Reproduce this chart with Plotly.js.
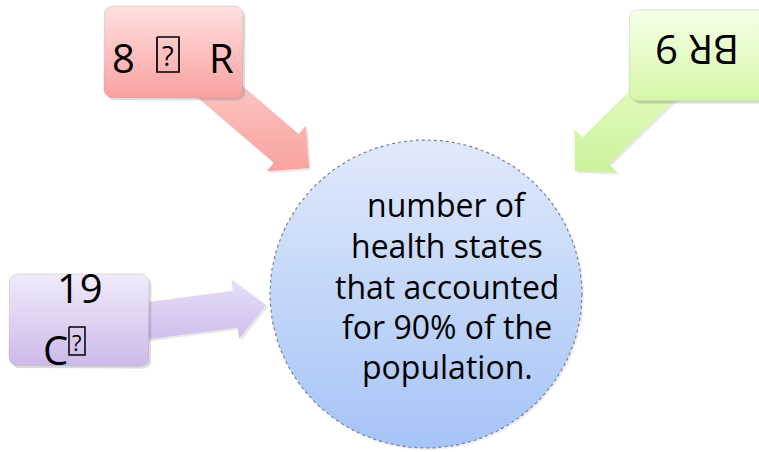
<!DOCTYPE html>
<html>
<head>
<meta charset="utf-8">
<script src="https://cdn.plot.ly/plotly-3.0.1.min.js"></script>
<style>html,body{margin:0;padding:0;background:#fff;}#chart{width:759px;height:452px;}</style>
</head>
<body>
<div id="chart"></div>
<script>
// ---- content ----
const redLabelParts = ["8", "?", "R"];          // "?" drawn inside a missing-glyph box
const greenLabel = "BR 9";
const purpleLabels = ["19", "C", "?"];
const centerLines = ["number of", "health states", "that accounted", "for 90% of the", "population."];

// ---- geometry (pixel coordinates on a 759x452 canvas) ----
const W = 759, H = 452;
const circleGeom = {cx: 426, cy: 294, rx: 156, ry: 154};
const boxes = [
  {x0: 104, y0: 6, x1: 243, y1: 98, r: 9, top: "rgb(255,224,224)", bot: "rgb(249,160,160)"},
  {x0: 629, y0: 10, x1: 775, y1: 101, r: 9, top: "rgb(246,255,232)", bot: "rgb(212,246,168)"},
  {x0: 9, y0: 274, x1: 149, y1: 366, r: 9, top: "rgb(241,234,251)", bot: "rgb(204,186,233)"}
];
const arrows = [
  {sx: 203, sy: 77, tx: 309, ty: 168, sw: 38, hw: 60, hl: 30, top: "rgb(253,205,203)", bot: "rgb(248,162,158)"},
  {sx: 674, sy: 74, tx: 575, ty: 171, sw: 38, hw: 61, hl: 29, top: "rgb(230,252,200)", bot: "rgb(204,242,155)"},
  {sx: 130, sy: 323, tx: 266, ty: 305, sw: 37, hw: 60, hl: 31, top: "rgb(232,222,248)", bot: "rgb(206,190,236)"}
];
const tofuBoxes = [
  {x0: 157, y0: 37, x1: 179, y1: 72, w: 1.7},
  {x0: 69, y0: 327, x1: 85, y1: 355, w: 1.5}
];
const centerLineY = [204, 245, 286, 326, 366];
const centerX = 447;

function roundRect(b) {
  const xs = [], ys = [];
  const corners = [
    [b.x1 - b.r, b.y0 + b.r, -90, 0],
    [b.x1 - b.r, b.y1 - b.r, 0, 90],
    [b.x0 + b.r, b.y1 - b.r, 90, 180],
    [b.x0 + b.r, b.y0 + b.r, 180, 270]
  ];
  corners.forEach(c => {
    for (let a = c[2]; a <= c[3]; a += 10) {
      const t = a * Math.PI / 180;
      xs.push(c[0] + b.r * Math.cos(t));
      ys.push(c[1] + b.r * Math.sin(t));
    }
  });
  xs.push(xs[0]); ys.push(ys[0]);
  return {xs, ys};
}
function arrowPoly(a) {
  const dx = a.tx - a.sx, dy = a.ty - a.sy, L = Math.hypot(dx, dy);
  const ux = dx / L, uy = dy / L, nx = -uy, ny = ux;
  const bx = a.tx - ux * a.hl, by = a.ty - uy * a.hl;
  const pts = [
    [a.sx + nx * a.sw / 2, a.sy + ny * a.sw / 2],
    [bx + nx * a.sw / 2, by + ny * a.sw / 2],
    [bx + nx * a.hw / 2, by + ny * a.hw / 2],
    [a.tx, a.ty],
    [bx - nx * a.hw / 2, by - ny * a.hw / 2],
    [bx - nx * a.sw / 2, by - ny * a.sw / 2],
    [a.sx - nx * a.sw / 2, a.sy - ny * a.sw / 2]
  ];
  pts.push(pts[0]);
  return {xs: pts.map(p => p[0]), ys: pts.map(p => p[1])};
}
function ellipse(c) {
  const xs = [], ys = [];
  for (let a = 0; a <= 360; a += 3) {
    const t = a * Math.PI / 180;
    xs.push(c.cx + c.rx * Math.cos(t));
    ys.push(c.cy + c.ry * Math.sin(t));
  }
  return {xs, ys};
}
function shapeTrace(p, top, bot, line) {
  const ys = p.ys;
  const ymin = Math.min(...ys), ymax = Math.max(...ys);
  return {
    type: "scatter", mode: "lines", x: p.xs, y: ys, fill: "toself",
    fillgradient: {type: "vertical", colorscale: [[0, bot], [1, top]], start: ymax, stop: ymin},
    line: line || {width: 0, color: "rgba(0,0,0,0)"},
    hoverinfo: "skip", showlegend: false
  };
}
function shadowTrace(p, off, col) {
  return {
    type: "scatter", mode: "lines", x: p.xs.map(v => v + off), y: p.ys.map(v => v + off), fill: "toself",
    fillcolor: col, line: {width: 0, color: "rgba(0,0,0,0)"}, hoverinfo: "skip", showlegend: false
  };
}

const traces = [];
arrows.forEach(a => {
  const p = arrowPoly(a);
  traces.push(shadowTrace(p, 2, "rgba(120,120,120,0.18)"));
  traces.push(shapeTrace(p, a.top, a.bot));
});
const cp = ellipse(circleGeom);
traces.push(shadowTrace(cp, 2, "rgba(120,120,120,0.12)"));
traces.push(shapeTrace(cp, "rgb(224,233,251)", "rgb(166,196,247)", {width: 1.2, color: "rgb(120,128,150)", dash: "dot"}));
boxes.forEach(b => {
  const p = roundRect(b);
  traces.push(shadowTrace(p, 2.5, "rgba(90,90,90,0.22)"));
  traces.push(shapeTrace(p, b.top, b.bot, {width: 0.8, color: "rgba(150,150,150,0.35)"}));
});
tofuBoxes.forEach(t => traces.push({
  type: "scatter", mode: "lines",
  x: [t.x0, t.x1, t.x1, t.x0, t.x0], y: [t.y0, t.y0, t.y1, t.y1, t.y0],
  line: {color: "#000", width: t.w}, hoverinfo: "skip", showlegend: false
}));

const font = "'Open Sans', 'Noto Sans', 'DejaVu Sans', sans-serif";
const annotations = [];
function ann(x, y, text, size, extra) {
  annotations.push(Object.assign({
    x: x, y: y, xref: "x", yref: "y", text: text, showarrow: false,
    xanchor: "center", yanchor: "middle", font: {family: font, size: size, color: "#000"}
  }, extra || {}));
}
centerLines.forEach((t, i) => ann(centerX, centerLineY[i], t, 32));
ann(123, 57, redLabelParts[0], 40);
ann(168, 55, redLabelParts[1], 27);
ann(221, 57, redLabelParts[2], 40);
ann(697, 51, greenLabel, 40, {textangle: 180});
ann(80, 287, purpleLabels[0], 40);
ann(55, 349, purpleLabels[1], 40);
ann(77, 342, purpleLabels[2], 22);

const layout = {
  width: W, height: H, margin: {l: 0, r: 0, t: 0, b: 0},
  paper_bgcolor: "#fff", plot_bgcolor: "#fff",
  xaxis: {range: [0, W], visible: false, fixedrange: true},
  yaxis: {range: [H, 0], visible: false, fixedrange: true},
  showlegend: false, annotations: annotations
};
Plotly.newPlot("chart", traces, layout, {displayModeBar: false, staticPlot: true});
</script>
</body>
</html>
